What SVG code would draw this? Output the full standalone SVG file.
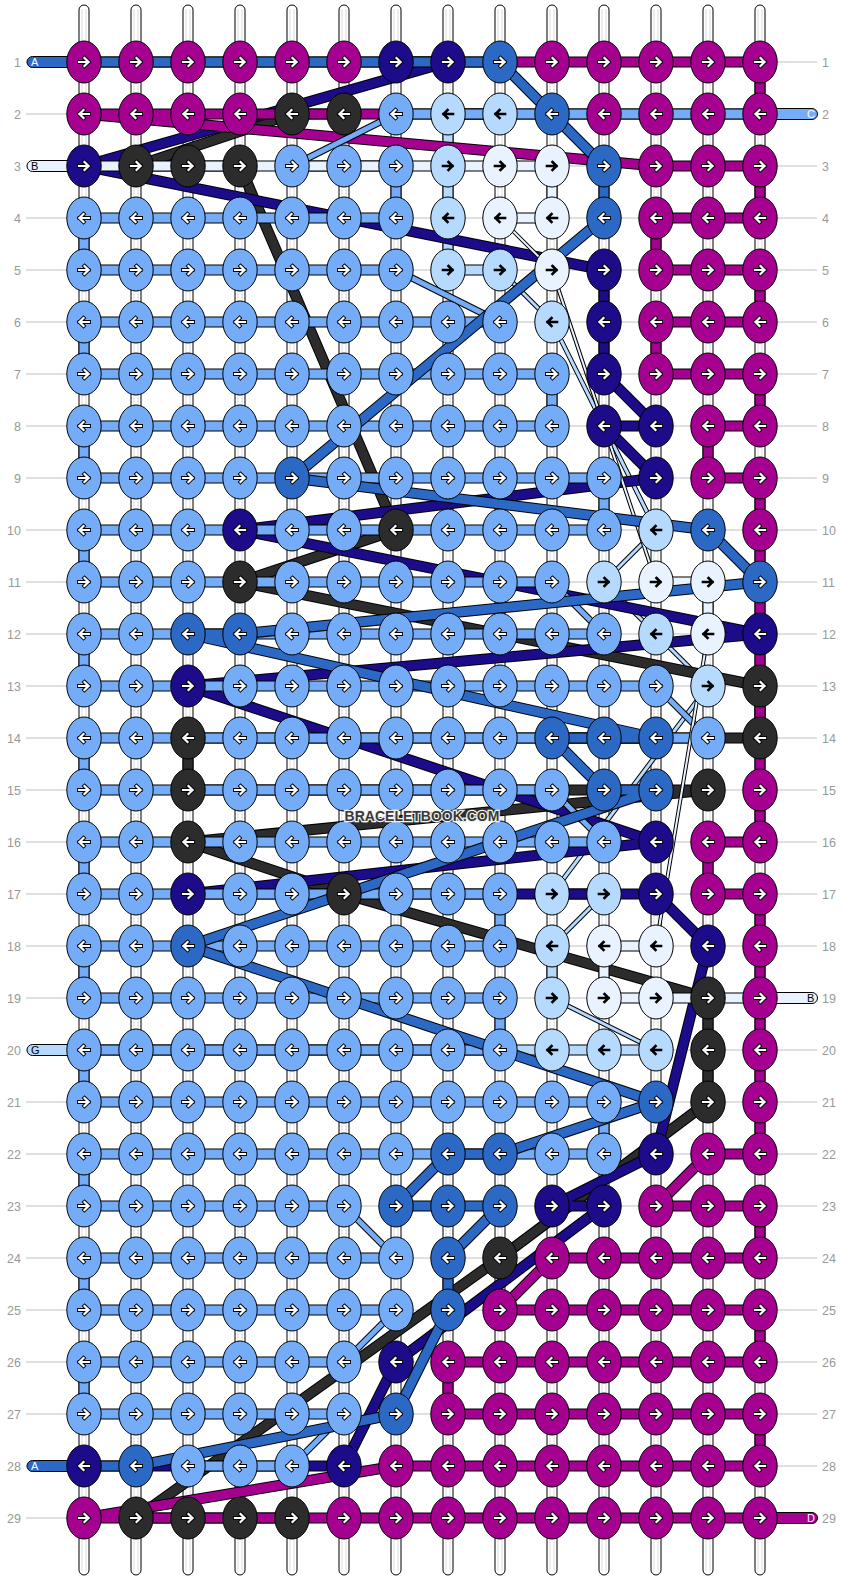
<svg xmlns="http://www.w3.org/2000/svg" width="844" height="1580" viewBox="0 0 844 1580">
<style>
.M{fill:#a5008f}.N{fill:#1d0c89}.B{fill:#2b69c5}.L{fill:#74acf8}.V{fill:#b5dafd}.W{fill:#e8f3ff}.K{fill:#2c2c2c}
.num{font-family:"Liberation Sans",Arial,sans-serif;font-size:12.5px;fill:#999}
.lab{font-family:"Liberation Sans",Arial,sans-serif;font-size:11px}
.wm{font-family:"Liberation Sans",Arial,sans-serif;font-size:14px;font-weight:bold;fill:#3a3a3a;stroke:#f2f2f2;stroke-width:2.5px;paint-order:stroke}
</style>
<defs>
<g id="ar"><ellipse rx="17.2" ry="21" stroke="#000" stroke-width="1"/><path d="M-5,0H4.5M0.5,-4L4.5,0L0.5,4" fill="none" stroke="#000" stroke-width="4" stroke-linecap="square"/><path d="M-5,0H4.5M0.5,-4L4.5,0L0.5,4" fill="none" stroke="#fff" stroke-width="2.2" stroke-linecap="square"/></g>
<g id="al"><ellipse rx="17.2" ry="21" stroke="#000" stroke-width="1"/><path d="M5,0H-4.5M-0.5,-4L-4.5,0L-0.5,4" fill="none" stroke="#000" stroke-width="4" stroke-linecap="square"/><path d="M5,0H-4.5M-0.5,-4L-4.5,0L-0.5,4" fill="none" stroke="#fff" stroke-width="2.2" stroke-linecap="square"/></g>
<g id="br"><ellipse rx="17.2" ry="21" stroke="#000" stroke-width="1"/><path d="M-5,0H4.5M0.5,-4L4.5,0L0.5,4" fill="none" stroke="#000" stroke-width="2.6" stroke-linecap="square"/></g>
<g id="bl"><ellipse rx="17.2" ry="21" stroke="#000" stroke-width="1"/><path d="M5,0H-4.5M-0.5,-4L-4.5,0L-0.5,4" fill="none" stroke="#000" stroke-width="2.6" stroke-linecap="square"/></g>
<path id="pVb" fill="none" stroke-linejoin="round" d="M500,114H448V270H500M552,894H604M552,946V998M656,1050H33"/>
<path id="pVd" fill="none" stroke-linejoin="round" d="M500,270L552,322L656,530L604,582L656,634L708,686L552,894M604,894L552,946M552,998L656,1050"/>
<path id="pK" fill="none" stroke-linejoin="round" d="M344,114H292L136,166H240L396,530L240,582L760,686V738H188V790H708L188,842L344,894L708,998V1102L500,1258L136,1518H292"/>
<path id="pN" fill="none" stroke-linejoin="round" d="M396,62H448L84,166L604,270V374L656,426H604L656,478L240,530L760,634L188,686L656,842L188,894H656L708,946L656,1154L552,1206H604L396,1362L344,1466H84"/>
<path id="pM" fill="none" stroke-linejoin="round" d="M84,62H760V114H84L656,166H760V218H656V270H760V322H656V374H760V426H708V478H760V842H708V894H760V1154H708L656,1206H760V1258H552L500,1310H760V1362H448V1414H760V1466H396L84,1518H811"/>
<path id="pLb" fill="none" stroke-linejoin="round" d="M811,114H396M292,166H396V218H84V270H396M500,322H84V374H552V426H84V478H604V530H84V582H552M604,634H84V686H656M708,738H84V790H552M604,842H84V894H500V946H84V998H500V1050H84V1102H604V1154H84V1206H344M396,1258H84V1310H396M344,1362H84V1414H344M292,1466H188"/>
<path id="pLd" fill="none" stroke-linejoin="round" d="M396,114L292,166M396,270L500,322M552,582L604,634M656,686L708,738M552,790L604,842M344,1206L396,1258M396,1310L344,1362M344,1414L292,1466"/>
<path id="pWb" fill="none" stroke-linejoin="round" d="M33,166H552V218H500M656,582H708V634M656,946H604V998H811"/>
<path id="pWd" fill="none" stroke-linejoin="round" d="M500,218L552,270L656,582M708,634L656,946"/>
<path id="pA" fill="none" stroke-linejoin="round" d="M33,62H500L552,114L604,166V218L292,478L708,530L760,582L240,634H188L656,738H552L604,790H656L188,946L656,1102L500,1154H448L396,1206H500L448,1258V1310L396,1414L136,1466H33"/>
</defs>
<rect width="844" height="1580" fill="#fff"/>
<g id="guidelines" stroke="#c0c0c0" stroke-width="1" fill="none">
<path d="M26,62H817M26,114H817M26,166H817M26,218H817M26,270H817M26,322H817M26,374H817M26,426H817M26,478H817M26,530H817M26,582H817M26,634H817M26,686H817M26,738H817M26,790H817M26,842H817M26,894H817M26,946H817M26,998H817M26,1050H817M26,1102H817M26,1154H817M26,1206H817M26,1258H817M26,1310H817M26,1362H817M26,1414H817M26,1466H817M26,1518H817"/>
</g>
<g id="rownumbers" class="num">
<g text-anchor="end">
<text x="21" y="66.5">1</text><text x="21" y="118.5">2</text><text x="21" y="170.5">3</text><text x="21" y="222.5">4</text><text x="21" y="274.5">5</text><text x="21" y="326.5">6</text><text x="21" y="378.5">7</text><text x="21" y="430.5">8</text><text x="21" y="482.5">9</text><text x="21" y="534.5">10</text><text x="21" y="586.5">11</text><text x="21" y="638.5">12</text><text x="21" y="690.5">13</text><text x="21" y="742.5">14</text><text x="21" y="794.5">15</text><text x="21" y="846.5">16</text><text x="21" y="898.5">17</text><text x="21" y="950.5">18</text><text x="21" y="1002.5">19</text><text x="21" y="1054.5">20</text><text x="21" y="1106.5">21</text><text x="21" y="1158.5">22</text><text x="21" y="1210.5">23</text><text x="21" y="1262.5">24</text><text x="21" y="1314.5">25</text><text x="21" y="1366.5">26</text><text x="21" y="1418.5">27</text><text x="21" y="1470.5">28</text><text x="21" y="1522.5">29</text>
</g>
<g>
<text x="822" y="66.5">1</text><text x="822" y="118.5">2</text><text x="822" y="170.5">3</text><text x="822" y="222.5">4</text><text x="822" y="274.5">5</text><text x="822" y="326.5">6</text><text x="822" y="378.5">7</text><text x="822" y="430.5">8</text><text x="822" y="482.5">9</text><text x="822" y="534.5">10</text><text x="822" y="586.5">11</text><text x="822" y="638.5">12</text><text x="822" y="690.5">13</text><text x="822" y="742.5">14</text><text x="822" y="794.5">15</text><text x="822" y="846.5">16</text><text x="822" y="898.5">17</text><text x="822" y="950.5">18</text><text x="822" y="1002.5">19</text><text x="822" y="1054.5">20</text><text x="822" y="1106.5">21</text><text x="822" y="1158.5">22</text><text x="822" y="1210.5">23</text><text x="822" y="1262.5">24</text><text x="822" y="1314.5">25</text><text x="822" y="1366.5">26</text><text x="822" y="1418.5">27</text><text x="822" y="1470.5">28</text><text x="822" y="1522.5">29</text>
</g>
</g>
<g id="warp">
<g fill="#fff" stroke="#000" stroke-width="1">
<rect x="79" y="5" width="10" height="1570" rx="5"/><rect x="131" y="5" width="10" height="1570" rx="5"/><rect x="183" y="5" width="10" height="1570" rx="5"/><rect x="235" y="5" width="10" height="1570" rx="5"/><rect x="287" y="5" width="10" height="1570" rx="5"/><rect x="339" y="5" width="10" height="1570" rx="5"/><rect x="391" y="5" width="10" height="1570" rx="5"/><rect x="443" y="5" width="10" height="1570" rx="5"/><rect x="495" y="5" width="10" height="1570" rx="5"/><rect x="547" y="5" width="10" height="1570" rx="5"/><rect x="599" y="5" width="10" height="1570" rx="5"/><rect x="651" y="5" width="10" height="1570" rx="5"/><rect x="703" y="5" width="10" height="1570" rx="5"/><rect x="755" y="5" width="10" height="1570" rx="5"/>
</g>
<path stroke="#dcdcdc" stroke-width="1" fill="none" d="M82,9V1571M86,9V1571M134,9V1571M138,9V1571M186,9V1571M190,9V1571M238,9V1571M242,9V1571M290,9V1571M294,9V1571M342,9V1571M346,9V1571M394,9V1571M398,9V1571M446,9V1571M450,9V1571M498,9V1571M502,9V1571M550,9V1571M554,9V1571M602,9V1571M606,9V1571M654,9V1571M658,9V1571M706,9V1571M710,9V1571M758,9V1571M762,9V1571"/>
</g>
<g id="connectors">
<g id="thread-G"><use href="#pVd" stroke="#000" stroke-width="5"/><use href="#pVd" stroke="#b5dafd" stroke-width="3"/><use href="#pVb" stroke="#000" stroke-width="11"/><use href="#pVb" stroke="#b5dafd" stroke-width="9"/></g>
<g id="thread-black"><use href="#pK" stroke="#000" stroke-width="11"/><use href="#pK" stroke="#2c2c2c" stroke-width="9"/></g>
<g id="thread-navy"><use href="#pN" stroke="#000" stroke-width="11"/><use href="#pN" stroke="#1d0c89" stroke-width="9"/></g>
<g id="thread-D"><use href="#pM" stroke="#000" stroke-width="11"/><use href="#pM" stroke="#a5008f" stroke-width="9"/></g>
<g id="thread-C"><use href="#pLd" stroke="#000" stroke-width="7"/><use href="#pLd" stroke="#74acf8" stroke-width="5"/><use href="#pLb" stroke="#000" stroke-width="11"/><use href="#pLb" stroke="#74acf8" stroke-width="9"/></g>
<g id="thread-B"><use href="#pWd" stroke="#000" stroke-width="4"/><use href="#pWd" stroke="#e8f3ff" stroke-width="2"/><use href="#pWb" stroke="#000" stroke-width="11"/><use href="#pWb" stroke="#e8f3ff" stroke-width="9"/></g>
<g id="thread-A"><use href="#pA" stroke="#000" stroke-width="11"/><use href="#pA" stroke="#2b69c5" stroke-width="9"/></g>
</g>
<g id="labels" stroke="#000" stroke-width="1">
<g id="lab-A1"><rect x="27" y="56.5" width="48" height="11" rx="5.5" class="B"/><text x="31" y="66" class="lab" fill="#fff" stroke="none">A</text></g>
<g id="lab-C2"><rect x="769" y="108.5" width="48.5" height="11" rx="5.5" class="L"/><text x="807" y="118" class="lab" fill="#fff" stroke="none">C</text></g>
<g id="lab-B3"><rect x="27" y="160.5" width="48" height="11" rx="5.5" class="W"/><text x="31" y="170" class="lab" fill="#000" stroke="none">B</text></g>
<g id="lab-B19"><rect x="769" y="992.5" width="48.5" height="11" rx="5.5" class="W"/><text x="807" y="1002" class="lab" fill="#000" stroke="none">B</text></g>
<g id="lab-G20"><rect x="27" y="1044.5" width="48" height="11" rx="5.5" class="V"/><text x="31" y="1054" class="lab" fill="#000" stroke="none">G</text></g>
<g id="lab-A28"><rect x="27" y="1460.5" width="48" height="11" rx="5.5" class="B"/><text x="31" y="1470" class="lab" fill="#fff" stroke="none">A</text></g>
<g id="lab-D29"><rect x="769" y="1512.5" width="48.5" height="11" rx="5.5" class="M"/><text x="807" y="1522" class="lab" fill="#fff" stroke="none">D</text></g>
</g>
<g id="knots">
<g id="k1-1" class="M"><use href="#ar" x="84" y="62"/></g><g id="k1-2" class="M"><use href="#ar" x="136" y="62"/></g><g id="k1-3" class="M"><use href="#ar" x="188" y="62"/></g><g id="k1-4" class="M"><use href="#ar" x="240" y="62"/></g><g id="k1-5" class="M"><use href="#ar" x="292" y="62"/></g><g id="k1-6" class="M"><use href="#ar" x="344" y="62"/></g><g id="k1-7" class="N"><use href="#ar" x="396" y="62"/></g><g id="k1-8" class="N"><use href="#ar" x="448" y="62"/></g><g id="k1-9" class="B"><use href="#ar" x="500" y="62"/></g><g id="k1-10" class="M"><use href="#ar" x="552" y="62"/></g><g id="k1-11" class="M"><use href="#ar" x="604" y="62"/></g><g id="k1-12" class="M"><use href="#ar" x="656" y="62"/></g><g id="k1-13" class="M"><use href="#ar" x="708" y="62"/></g><g id="k1-14" class="M"><use href="#ar" x="760" y="62"/></g>
<g id="k2-1" class="M"><use href="#al" x="84" y="114"/></g><g id="k2-2" class="M"><use href="#al" x="136" y="114"/></g><g id="k2-3" class="M"><use href="#al" x="188" y="114"/></g><g id="k2-4" class="M"><use href="#al" x="240" y="114"/></g><g id="k2-5" class="K"><use href="#al" x="292" y="114"/></g><g id="k2-6" class="K"><use href="#al" x="344" y="114"/></g><g id="k2-7" class="L"><use href="#al" x="396" y="114"/></g><g id="k2-8" class="V"><use href="#bl" x="448" y="114"/></g><g id="k2-9" class="V"><use href="#bl" x="500" y="114"/></g><g id="k2-10" class="B"><use href="#al" x="552" y="114"/></g><g id="k2-11" class="M"><use href="#al" x="604" y="114"/></g><g id="k2-12" class="M"><use href="#al" x="656" y="114"/></g><g id="k2-13" class="M"><use href="#al" x="708" y="114"/></g><g id="k2-14" class="M"><use href="#al" x="760" y="114"/></g>
<g id="k3-1" class="N"><use href="#ar" x="84" y="166"/></g><g id="k3-2" class="K"><use href="#ar" x="136" y="166"/></g><g id="k3-3" class="K"><use href="#ar" x="188" y="166"/></g><g id="k3-4" class="K"><use href="#ar" x="240" y="166"/></g><g id="k3-5" class="L"><use href="#ar" x="292" y="166"/></g><g id="k3-6" class="L"><use href="#ar" x="344" y="166"/></g><g id="k3-7" class="L"><use href="#ar" x="396" y="166"/></g><g id="k3-8" class="V"><use href="#br" x="448" y="166"/></g><g id="k3-9" class="W"><use href="#br" x="500" y="166"/></g><g id="k3-10" class="W"><use href="#br" x="552" y="166"/></g><g id="k3-11" class="B"><use href="#ar" x="604" y="166"/></g><g id="k3-12" class="M"><use href="#ar" x="656" y="166"/></g><g id="k3-13" class="M"><use href="#ar" x="708" y="166"/></g><g id="k3-14" class="M"><use href="#ar" x="760" y="166"/></g>
<g id="k4-1" class="L"><use href="#al" x="84" y="218"/></g><g id="k4-2" class="L"><use href="#al" x="136" y="218"/></g><g id="k4-3" class="L"><use href="#al" x="188" y="218"/></g><g id="k4-4" class="L"><use href="#al" x="240" y="218"/></g><g id="k4-5" class="L"><use href="#al" x="292" y="218"/></g><g id="k4-6" class="L"><use href="#al" x="344" y="218"/></g><g id="k4-7" class="L"><use href="#al" x="396" y="218"/></g><g id="k4-8" class="V"><use href="#bl" x="448" y="218"/></g><g id="k4-9" class="W"><use href="#bl" x="500" y="218"/></g><g id="k4-10" class="W"><use href="#bl" x="552" y="218"/></g><g id="k4-11" class="B"><use href="#al" x="604" y="218"/></g><g id="k4-12" class="M"><use href="#al" x="656" y="218"/></g><g id="k4-13" class="M"><use href="#al" x="708" y="218"/></g><g id="k4-14" class="M"><use href="#al" x="760" y="218"/></g>
<g id="k5-1" class="L"><use href="#ar" x="84" y="270"/></g><g id="k5-2" class="L"><use href="#ar" x="136" y="270"/></g><g id="k5-3" class="L"><use href="#ar" x="188" y="270"/></g><g id="k5-4" class="L"><use href="#ar" x="240" y="270"/></g><g id="k5-5" class="L"><use href="#ar" x="292" y="270"/></g><g id="k5-6" class="L"><use href="#ar" x="344" y="270"/></g><g id="k5-7" class="L"><use href="#ar" x="396" y="270"/></g><g id="k5-8" class="V"><use href="#br" x="448" y="270"/></g><g id="k5-9" class="V"><use href="#br" x="500" y="270"/></g><g id="k5-10" class="W"><use href="#br" x="552" y="270"/></g><g id="k5-11" class="N"><use href="#ar" x="604" y="270"/></g><g id="k5-12" class="M"><use href="#ar" x="656" y="270"/></g><g id="k5-13" class="M"><use href="#ar" x="708" y="270"/></g><g id="k5-14" class="M"><use href="#ar" x="760" y="270"/></g>
<g id="k6-1" class="L"><use href="#al" x="84" y="322"/></g><g id="k6-2" class="L"><use href="#al" x="136" y="322"/></g><g id="k6-3" class="L"><use href="#al" x="188" y="322"/></g><g id="k6-4" class="L"><use href="#al" x="240" y="322"/></g><g id="k6-5" class="L"><use href="#al" x="292" y="322"/></g><g id="k6-6" class="L"><use href="#al" x="344" y="322"/></g><g id="k6-7" class="L"><use href="#al" x="396" y="322"/></g><g id="k6-8" class="L"><use href="#al" x="448" y="322"/></g><g id="k6-9" class="L"><use href="#al" x="500" y="322"/></g><g id="k6-10" class="V"><use href="#bl" x="552" y="322"/></g><g id="k6-11" class="N"><use href="#al" x="604" y="322"/></g><g id="k6-12" class="M"><use href="#al" x="656" y="322"/></g><g id="k6-13" class="M"><use href="#al" x="708" y="322"/></g><g id="k6-14" class="M"><use href="#al" x="760" y="322"/></g>
<g id="k7-1" class="L"><use href="#ar" x="84" y="374"/></g><g id="k7-2" class="L"><use href="#ar" x="136" y="374"/></g><g id="k7-3" class="L"><use href="#ar" x="188" y="374"/></g><g id="k7-4" class="L"><use href="#ar" x="240" y="374"/></g><g id="k7-5" class="L"><use href="#ar" x="292" y="374"/></g><g id="k7-6" class="L"><use href="#ar" x="344" y="374"/></g><g id="k7-7" class="L"><use href="#ar" x="396" y="374"/></g><g id="k7-8" class="L"><use href="#ar" x="448" y="374"/></g><g id="k7-9" class="L"><use href="#ar" x="500" y="374"/></g><g id="k7-10" class="L"><use href="#ar" x="552" y="374"/></g><g id="k7-11" class="N"><use href="#ar" x="604" y="374"/></g><g id="k7-12" class="M"><use href="#ar" x="656" y="374"/></g><g id="k7-13" class="M"><use href="#ar" x="708" y="374"/></g><g id="k7-14" class="M"><use href="#ar" x="760" y="374"/></g>
<g id="k8-1" class="L"><use href="#al" x="84" y="426"/></g><g id="k8-2" class="L"><use href="#al" x="136" y="426"/></g><g id="k8-3" class="L"><use href="#al" x="188" y="426"/></g><g id="k8-4" class="L"><use href="#al" x="240" y="426"/></g><g id="k8-5" class="L"><use href="#al" x="292" y="426"/></g><g id="k8-6" class="L"><use href="#al" x="344" y="426"/></g><g id="k8-7" class="L"><use href="#al" x="396" y="426"/></g><g id="k8-8" class="L"><use href="#al" x="448" y="426"/></g><g id="k8-9" class="L"><use href="#al" x="500" y="426"/></g><g id="k8-10" class="L"><use href="#al" x="552" y="426"/></g><g id="k8-11" class="N"><use href="#al" x="604" y="426"/></g><g id="k8-12" class="N"><use href="#al" x="656" y="426"/></g><g id="k8-13" class="M"><use href="#al" x="708" y="426"/></g><g id="k8-14" class="M"><use href="#al" x="760" y="426"/></g>
<g id="k9-1" class="L"><use href="#ar" x="84" y="478"/></g><g id="k9-2" class="L"><use href="#ar" x="136" y="478"/></g><g id="k9-3" class="L"><use href="#ar" x="188" y="478"/></g><g id="k9-4" class="L"><use href="#ar" x="240" y="478"/></g><g id="k9-5" class="B"><use href="#ar" x="292" y="478"/></g><g id="k9-6" class="L"><use href="#ar" x="344" y="478"/></g><g id="k9-7" class="L"><use href="#ar" x="396" y="478"/></g><g id="k9-8" class="L"><use href="#ar" x="448" y="478"/></g><g id="k9-9" class="L"><use href="#ar" x="500" y="478"/></g><g id="k9-10" class="L"><use href="#ar" x="552" y="478"/></g><g id="k9-11" class="L"><use href="#ar" x="604" y="478"/></g><g id="k9-12" class="N"><use href="#ar" x="656" y="478"/></g><g id="k9-13" class="M"><use href="#ar" x="708" y="478"/></g><g id="k9-14" class="M"><use href="#ar" x="760" y="478"/></g>
<g id="k10-1" class="L"><use href="#al" x="84" y="530"/></g><g id="k10-2" class="L"><use href="#al" x="136" y="530"/></g><g id="k10-3" class="L"><use href="#al" x="188" y="530"/></g><g id="k10-4" class="N"><use href="#al" x="240" y="530"/></g><g id="k10-5" class="L"><use href="#al" x="292" y="530"/></g><g id="k10-6" class="L"><use href="#al" x="344" y="530"/></g><g id="k10-7" class="K"><use href="#al" x="396" y="530"/></g><g id="k10-8" class="L"><use href="#al" x="448" y="530"/></g><g id="k10-9" class="L"><use href="#al" x="500" y="530"/></g><g id="k10-10" class="L"><use href="#al" x="552" y="530"/></g><g id="k10-11" class="L"><use href="#al" x="604" y="530"/></g><g id="k10-12" class="V"><use href="#bl" x="656" y="530"/></g><g id="k10-13" class="B"><use href="#al" x="708" y="530"/></g><g id="k10-14" class="M"><use href="#al" x="760" y="530"/></g>
<g id="k11-1" class="L"><use href="#ar" x="84" y="582"/></g><g id="k11-2" class="L"><use href="#ar" x="136" y="582"/></g><g id="k11-3" class="L"><use href="#ar" x="188" y="582"/></g><g id="k11-4" class="K"><use href="#ar" x="240" y="582"/></g><g id="k11-5" class="L"><use href="#ar" x="292" y="582"/></g><g id="k11-6" class="L"><use href="#ar" x="344" y="582"/></g><g id="k11-7" class="L"><use href="#ar" x="396" y="582"/></g><g id="k11-8" class="L"><use href="#ar" x="448" y="582"/></g><g id="k11-9" class="L"><use href="#ar" x="500" y="582"/></g><g id="k11-10" class="L"><use href="#ar" x="552" y="582"/></g><g id="k11-11" class="V"><use href="#br" x="604" y="582"/></g><g id="k11-12" class="W"><use href="#br" x="656" y="582"/></g><g id="k11-13" class="W"><use href="#br" x="708" y="582"/></g><g id="k11-14" class="B"><use href="#ar" x="760" y="582"/></g>
<g id="k12-1" class="L"><use href="#al" x="84" y="634"/></g><g id="k12-2" class="L"><use href="#al" x="136" y="634"/></g><g id="k12-3" class="B"><use href="#al" x="188" y="634"/></g><g id="k12-4" class="B"><use href="#al" x="240" y="634"/></g><g id="k12-5" class="L"><use href="#al" x="292" y="634"/></g><g id="k12-6" class="L"><use href="#al" x="344" y="634"/></g><g id="k12-7" class="L"><use href="#al" x="396" y="634"/></g><g id="k12-8" class="L"><use href="#al" x="448" y="634"/></g><g id="k12-9" class="L"><use href="#al" x="500" y="634"/></g><g id="k12-10" class="L"><use href="#al" x="552" y="634"/></g><g id="k12-11" class="L"><use href="#al" x="604" y="634"/></g><g id="k12-12" class="V"><use href="#bl" x="656" y="634"/></g><g id="k12-13" class="W"><use href="#bl" x="708" y="634"/></g><g id="k12-14" class="N"><use href="#al" x="760" y="634"/></g>
<g id="k13-1" class="L"><use href="#ar" x="84" y="686"/></g><g id="k13-2" class="L"><use href="#ar" x="136" y="686"/></g><g id="k13-3" class="N"><use href="#ar" x="188" y="686"/></g><g id="k13-4" class="L"><use href="#ar" x="240" y="686"/></g><g id="k13-5" class="L"><use href="#ar" x="292" y="686"/></g><g id="k13-6" class="L"><use href="#ar" x="344" y="686"/></g><g id="k13-7" class="L"><use href="#ar" x="396" y="686"/></g><g id="k13-8" class="L"><use href="#ar" x="448" y="686"/></g><g id="k13-9" class="L"><use href="#ar" x="500" y="686"/></g><g id="k13-10" class="L"><use href="#ar" x="552" y="686"/></g><g id="k13-11" class="L"><use href="#ar" x="604" y="686"/></g><g id="k13-12" class="L"><use href="#ar" x="656" y="686"/></g><g id="k13-13" class="V"><use href="#br" x="708" y="686"/></g><g id="k13-14" class="K"><use href="#ar" x="760" y="686"/></g>
<g id="k14-1" class="L"><use href="#al" x="84" y="738"/></g><g id="k14-2" class="L"><use href="#al" x="136" y="738"/></g><g id="k14-3" class="K"><use href="#al" x="188" y="738"/></g><g id="k14-4" class="L"><use href="#al" x="240" y="738"/></g><g id="k14-5" class="L"><use href="#al" x="292" y="738"/></g><g id="k14-6" class="L"><use href="#al" x="344" y="738"/></g><g id="k14-7" class="L"><use href="#al" x="396" y="738"/></g><g id="k14-8" class="L"><use href="#al" x="448" y="738"/></g><g id="k14-9" class="L"><use href="#al" x="500" y="738"/></g><g id="k14-10" class="B"><use href="#al" x="552" y="738"/></g><g id="k14-11" class="B"><use href="#al" x="604" y="738"/></g><g id="k14-12" class="B"><use href="#al" x="656" y="738"/></g><g id="k14-13" class="L"><use href="#al" x="708" y="738"/></g><g id="k14-14" class="K"><use href="#al" x="760" y="738"/></g>
<g id="k15-1" class="L"><use href="#ar" x="84" y="790"/></g><g id="k15-2" class="L"><use href="#ar" x="136" y="790"/></g><g id="k15-3" class="K"><use href="#ar" x="188" y="790"/></g><g id="k15-4" class="L"><use href="#ar" x="240" y="790"/></g><g id="k15-5" class="L"><use href="#ar" x="292" y="790"/></g><g id="k15-6" class="L"><use href="#ar" x="344" y="790"/></g><g id="k15-7" class="L"><use href="#ar" x="396" y="790"/></g><g id="k15-8" class="L"><use href="#ar" x="448" y="790"/></g><g id="k15-9" class="L"><use href="#ar" x="500" y="790"/></g><g id="k15-10" class="L"><use href="#ar" x="552" y="790"/></g><g id="k15-11" class="B"><use href="#ar" x="604" y="790"/></g><g id="k15-12" class="B"><use href="#ar" x="656" y="790"/></g><g id="k15-13" class="K"><use href="#ar" x="708" y="790"/></g><g id="k15-14" class="M"><use href="#ar" x="760" y="790"/></g>
<g id="k16-1" class="L"><use href="#al" x="84" y="842"/></g><g id="k16-2" class="L"><use href="#al" x="136" y="842"/></g><g id="k16-3" class="K"><use href="#al" x="188" y="842"/></g><g id="k16-4" class="L"><use href="#al" x="240" y="842"/></g><g id="k16-5" class="L"><use href="#al" x="292" y="842"/></g><g id="k16-6" class="L"><use href="#al" x="344" y="842"/></g><g id="k16-7" class="L"><use href="#al" x="396" y="842"/></g><g id="k16-8" class="L"><use href="#al" x="448" y="842"/></g><g id="k16-9" class="L"><use href="#al" x="500" y="842"/></g><g id="k16-10" class="L"><use href="#al" x="552" y="842"/></g><g id="k16-11" class="L"><use href="#al" x="604" y="842"/></g><g id="k16-12" class="N"><use href="#al" x="656" y="842"/></g><g id="k16-13" class="M"><use href="#al" x="708" y="842"/></g><g id="k16-14" class="M"><use href="#al" x="760" y="842"/></g>
<g id="k17-1" class="L"><use href="#ar" x="84" y="894"/></g><g id="k17-2" class="L"><use href="#ar" x="136" y="894"/></g><g id="k17-3" class="N"><use href="#ar" x="188" y="894"/></g><g id="k17-4" class="L"><use href="#ar" x="240" y="894"/></g><g id="k17-5" class="L"><use href="#ar" x="292" y="894"/></g><g id="k17-6" class="K"><use href="#ar" x="344" y="894"/></g><g id="k17-7" class="L"><use href="#ar" x="396" y="894"/></g><g id="k17-8" class="L"><use href="#ar" x="448" y="894"/></g><g id="k17-9" class="L"><use href="#ar" x="500" y="894"/></g><g id="k17-10" class="V"><use href="#br" x="552" y="894"/></g><g id="k17-11" class="V"><use href="#br" x="604" y="894"/></g><g id="k17-12" class="N"><use href="#ar" x="656" y="894"/></g><g id="k17-13" class="M"><use href="#ar" x="708" y="894"/></g><g id="k17-14" class="M"><use href="#ar" x="760" y="894"/></g>
<g id="k18-1" class="L"><use href="#al" x="84" y="946"/></g><g id="k18-2" class="L"><use href="#al" x="136" y="946"/></g><g id="k18-3" class="B"><use href="#al" x="188" y="946"/></g><g id="k18-4" class="L"><use href="#al" x="240" y="946"/></g><g id="k18-5" class="L"><use href="#al" x="292" y="946"/></g><g id="k18-6" class="L"><use href="#al" x="344" y="946"/></g><g id="k18-7" class="L"><use href="#al" x="396" y="946"/></g><g id="k18-8" class="L"><use href="#al" x="448" y="946"/></g><g id="k18-9" class="L"><use href="#al" x="500" y="946"/></g><g id="k18-10" class="V"><use href="#bl" x="552" y="946"/></g><g id="k18-11" class="W"><use href="#bl" x="604" y="946"/></g><g id="k18-12" class="W"><use href="#bl" x="656" y="946"/></g><g id="k18-13" class="N"><use href="#al" x="708" y="946"/></g><g id="k18-14" class="M"><use href="#al" x="760" y="946"/></g>
<g id="k19-1" class="L"><use href="#ar" x="84" y="998"/></g><g id="k19-2" class="L"><use href="#ar" x="136" y="998"/></g><g id="k19-3" class="L"><use href="#ar" x="188" y="998"/></g><g id="k19-4" class="L"><use href="#ar" x="240" y="998"/></g><g id="k19-5" class="L"><use href="#ar" x="292" y="998"/></g><g id="k19-6" class="L"><use href="#ar" x="344" y="998"/></g><g id="k19-7" class="L"><use href="#ar" x="396" y="998"/></g><g id="k19-8" class="L"><use href="#ar" x="448" y="998"/></g><g id="k19-9" class="L"><use href="#ar" x="500" y="998"/></g><g id="k19-10" class="V"><use href="#br" x="552" y="998"/></g><g id="k19-11" class="W"><use href="#br" x="604" y="998"/></g><g id="k19-12" class="W"><use href="#br" x="656" y="998"/></g><g id="k19-13" class="K"><use href="#ar" x="708" y="998"/></g><g id="k19-14" class="M"><use href="#ar" x="760" y="998"/></g>
<g id="k20-1" class="L"><use href="#al" x="84" y="1050"/></g><g id="k20-2" class="L"><use href="#al" x="136" y="1050"/></g><g id="k20-3" class="L"><use href="#al" x="188" y="1050"/></g><g id="k20-4" class="L"><use href="#al" x="240" y="1050"/></g><g id="k20-5" class="L"><use href="#al" x="292" y="1050"/></g><g id="k20-6" class="L"><use href="#al" x="344" y="1050"/></g><g id="k20-7" class="L"><use href="#al" x="396" y="1050"/></g><g id="k20-8" class="L"><use href="#al" x="448" y="1050"/></g><g id="k20-9" class="L"><use href="#al" x="500" y="1050"/></g><g id="k20-10" class="V"><use href="#bl" x="552" y="1050"/></g><g id="k20-11" class="V"><use href="#bl" x="604" y="1050"/></g><g id="k20-12" class="V"><use href="#bl" x="656" y="1050"/></g><g id="k20-13" class="K"><use href="#al" x="708" y="1050"/></g><g id="k20-14" class="M"><use href="#al" x="760" y="1050"/></g>
<g id="k21-1" class="L"><use href="#ar" x="84" y="1102"/></g><g id="k21-2" class="L"><use href="#ar" x="136" y="1102"/></g><g id="k21-3" class="L"><use href="#ar" x="188" y="1102"/></g><g id="k21-4" class="L"><use href="#ar" x="240" y="1102"/></g><g id="k21-5" class="L"><use href="#ar" x="292" y="1102"/></g><g id="k21-6" class="L"><use href="#ar" x="344" y="1102"/></g><g id="k21-7" class="L"><use href="#ar" x="396" y="1102"/></g><g id="k21-8" class="L"><use href="#ar" x="448" y="1102"/></g><g id="k21-9" class="L"><use href="#ar" x="500" y="1102"/></g><g id="k21-10" class="L"><use href="#ar" x="552" y="1102"/></g><g id="k21-11" class="L"><use href="#ar" x="604" y="1102"/></g><g id="k21-12" class="B"><use href="#ar" x="656" y="1102"/></g><g id="k21-13" class="K"><use href="#ar" x="708" y="1102"/></g><g id="k21-14" class="M"><use href="#ar" x="760" y="1102"/></g>
<g id="k22-1" class="L"><use href="#al" x="84" y="1154"/></g><g id="k22-2" class="L"><use href="#al" x="136" y="1154"/></g><g id="k22-3" class="L"><use href="#al" x="188" y="1154"/></g><g id="k22-4" class="L"><use href="#al" x="240" y="1154"/></g><g id="k22-5" class="L"><use href="#al" x="292" y="1154"/></g><g id="k22-6" class="L"><use href="#al" x="344" y="1154"/></g><g id="k22-7" class="L"><use href="#al" x="396" y="1154"/></g><g id="k22-8" class="B"><use href="#al" x="448" y="1154"/></g><g id="k22-9" class="B"><use href="#al" x="500" y="1154"/></g><g id="k22-10" class="L"><use href="#al" x="552" y="1154"/></g><g id="k22-11" class="L"><use href="#al" x="604" y="1154"/></g><g id="k22-12" class="N"><use href="#al" x="656" y="1154"/></g><g id="k22-13" class="M"><use href="#al" x="708" y="1154"/></g><g id="k22-14" class="M"><use href="#al" x="760" y="1154"/></g>
<g id="k23-1" class="L"><use href="#ar" x="84" y="1206"/></g><g id="k23-2" class="L"><use href="#ar" x="136" y="1206"/></g><g id="k23-3" class="L"><use href="#ar" x="188" y="1206"/></g><g id="k23-4" class="L"><use href="#ar" x="240" y="1206"/></g><g id="k23-5" class="L"><use href="#ar" x="292" y="1206"/></g><g id="k23-6" class="L"><use href="#ar" x="344" y="1206"/></g><g id="k23-7" class="B"><use href="#ar" x="396" y="1206"/></g><g id="k23-8" class="B"><use href="#ar" x="448" y="1206"/></g><g id="k23-9" class="B"><use href="#ar" x="500" y="1206"/></g><g id="k23-10" class="N"><use href="#ar" x="552" y="1206"/></g><g id="k23-11" class="N"><use href="#ar" x="604" y="1206"/></g><g id="k23-12" class="M"><use href="#ar" x="656" y="1206"/></g><g id="k23-13" class="M"><use href="#ar" x="708" y="1206"/></g><g id="k23-14" class="M"><use href="#ar" x="760" y="1206"/></g>
<g id="k24-1" class="L"><use href="#al" x="84" y="1258"/></g><g id="k24-2" class="L"><use href="#al" x="136" y="1258"/></g><g id="k24-3" class="L"><use href="#al" x="188" y="1258"/></g><g id="k24-4" class="L"><use href="#al" x="240" y="1258"/></g><g id="k24-5" class="L"><use href="#al" x="292" y="1258"/></g><g id="k24-6" class="L"><use href="#al" x="344" y="1258"/></g><g id="k24-7" class="L"><use href="#al" x="396" y="1258"/></g><g id="k24-8" class="B"><use href="#al" x="448" y="1258"/></g><g id="k24-9" class="K"><use href="#al" x="500" y="1258"/></g><g id="k24-10" class="M"><use href="#al" x="552" y="1258"/></g><g id="k24-11" class="M"><use href="#al" x="604" y="1258"/></g><g id="k24-12" class="M"><use href="#al" x="656" y="1258"/></g><g id="k24-13" class="M"><use href="#al" x="708" y="1258"/></g><g id="k24-14" class="M"><use href="#al" x="760" y="1258"/></g>
<g id="k25-1" class="L"><use href="#ar" x="84" y="1310"/></g><g id="k25-2" class="L"><use href="#ar" x="136" y="1310"/></g><g id="k25-3" class="L"><use href="#ar" x="188" y="1310"/></g><g id="k25-4" class="L"><use href="#ar" x="240" y="1310"/></g><g id="k25-5" class="L"><use href="#ar" x="292" y="1310"/></g><g id="k25-6" class="L"><use href="#ar" x="344" y="1310"/></g><g id="k25-7" class="L"><use href="#ar" x="396" y="1310"/></g><g id="k25-8" class="B"><use href="#ar" x="448" y="1310"/></g><g id="k25-9" class="M"><use href="#ar" x="500" y="1310"/></g><g id="k25-10" class="M"><use href="#ar" x="552" y="1310"/></g><g id="k25-11" class="M"><use href="#ar" x="604" y="1310"/></g><g id="k25-12" class="M"><use href="#ar" x="656" y="1310"/></g><g id="k25-13" class="M"><use href="#ar" x="708" y="1310"/></g><g id="k25-14" class="M"><use href="#ar" x="760" y="1310"/></g>
<g id="k26-1" class="L"><use href="#al" x="84" y="1362"/></g><g id="k26-2" class="L"><use href="#al" x="136" y="1362"/></g><g id="k26-3" class="L"><use href="#al" x="188" y="1362"/></g><g id="k26-4" class="L"><use href="#al" x="240" y="1362"/></g><g id="k26-5" class="L"><use href="#al" x="292" y="1362"/></g><g id="k26-6" class="L"><use href="#al" x="344" y="1362"/></g><g id="k26-7" class="N"><use href="#al" x="396" y="1362"/></g><g id="k26-8" class="M"><use href="#al" x="448" y="1362"/></g><g id="k26-9" class="M"><use href="#al" x="500" y="1362"/></g><g id="k26-10" class="M"><use href="#al" x="552" y="1362"/></g><g id="k26-11" class="M"><use href="#al" x="604" y="1362"/></g><g id="k26-12" class="M"><use href="#al" x="656" y="1362"/></g><g id="k26-13" class="M"><use href="#al" x="708" y="1362"/></g><g id="k26-14" class="M"><use href="#al" x="760" y="1362"/></g>
<g id="k27-1" class="L"><use href="#ar" x="84" y="1414"/></g><g id="k27-2" class="L"><use href="#ar" x="136" y="1414"/></g><g id="k27-3" class="L"><use href="#ar" x="188" y="1414"/></g><g id="k27-4" class="L"><use href="#ar" x="240" y="1414"/></g><g id="k27-5" class="L"><use href="#ar" x="292" y="1414"/></g><g id="k27-6" class="L"><use href="#ar" x="344" y="1414"/></g><g id="k27-7" class="B"><use href="#ar" x="396" y="1414"/></g><g id="k27-8" class="M"><use href="#ar" x="448" y="1414"/></g><g id="k27-9" class="M"><use href="#ar" x="500" y="1414"/></g><g id="k27-10" class="M"><use href="#ar" x="552" y="1414"/></g><g id="k27-11" class="M"><use href="#ar" x="604" y="1414"/></g><g id="k27-12" class="M"><use href="#ar" x="656" y="1414"/></g><g id="k27-13" class="M"><use href="#ar" x="708" y="1414"/></g><g id="k27-14" class="M"><use href="#ar" x="760" y="1414"/></g>
<g id="k28-1" class="N"><use href="#al" x="84" y="1466"/></g><g id="k28-2" class="B"><use href="#al" x="136" y="1466"/></g><g id="k28-3" class="L"><use href="#al" x="188" y="1466"/></g><g id="k28-4" class="L"><use href="#al" x="240" y="1466"/></g><g id="k28-5" class="L"><use href="#al" x="292" y="1466"/></g><g id="k28-6" class="N"><use href="#al" x="344" y="1466"/></g><g id="k28-7" class="M"><use href="#al" x="396" y="1466"/></g><g id="k28-8" class="M"><use href="#al" x="448" y="1466"/></g><g id="k28-9" class="M"><use href="#al" x="500" y="1466"/></g><g id="k28-10" class="M"><use href="#al" x="552" y="1466"/></g><g id="k28-11" class="M"><use href="#al" x="604" y="1466"/></g><g id="k28-12" class="M"><use href="#al" x="656" y="1466"/></g><g id="k28-13" class="M"><use href="#al" x="708" y="1466"/></g><g id="k28-14" class="M"><use href="#al" x="760" y="1466"/></g>
<g id="k29-1" class="M"><use href="#ar" x="84" y="1518"/></g><g id="k29-2" class="K"><use href="#ar" x="136" y="1518"/></g><g id="k29-3" class="K"><use href="#ar" x="188" y="1518"/></g><g id="k29-4" class="K"><use href="#ar" x="240" y="1518"/></g><g id="k29-5" class="K"><use href="#ar" x="292" y="1518"/></g><g id="k29-6" class="M"><use href="#ar" x="344" y="1518"/></g><g id="k29-7" class="M"><use href="#ar" x="396" y="1518"/></g><g id="k29-8" class="M"><use href="#ar" x="448" y="1518"/></g><g id="k29-9" class="M"><use href="#ar" x="500" y="1518"/></g><g id="k29-10" class="M"><use href="#ar" x="552" y="1518"/></g><g id="k29-11" class="M"><use href="#ar" x="604" y="1518"/></g><g id="k29-12" class="M"><use href="#ar" x="656" y="1518"/></g><g id="k29-13" class="M"><use href="#ar" x="708" y="1518"/></g><g id="k29-14" class="M"><use href="#ar" x="760" y="1518"/></g>
</g>
<g id="watermark"><text x="422" y="821" text-anchor="middle" class="wm">BRACELETBOOK.COM</text></g>
</svg>
